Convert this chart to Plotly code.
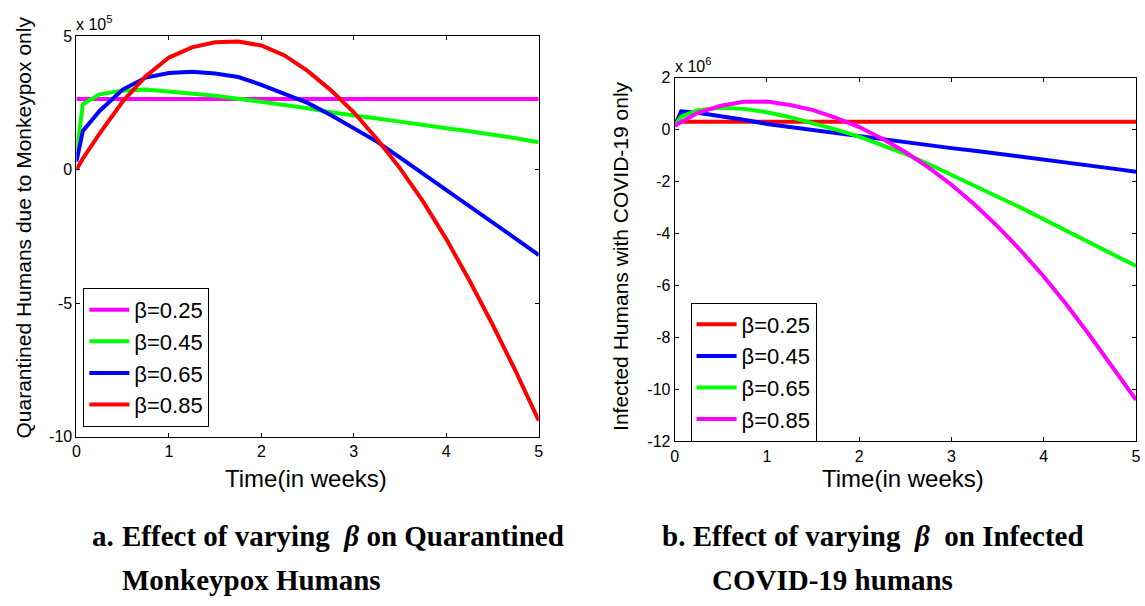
import plotly.graph_objects as go

# ---------------- data ----------------
t = [0, 0.07, 0.25, 0.5, 0.75, 1.0, 1.25, 1.5, 1.75, 2.0, 2.25, 2.5, 2.75,
     3.0, 3.25, 3.5, 3.75, 4.0, 4.25, 4.5, 4.75, 5.0]

# Panel a: Quarantined Humans due to Monkeypox only (units of 1e5)
a_labels = ["β=0.25", "β=0.45", "β=0.65", "β=0.85"]
a_b025 = [2.65] * 22
a_b045 = [0.6, 2.45, 2.82, 2.96, 3.0, 2.93, 2.86, 2.77, 2.66, 2.55, 2.43, 2.3,
          2.15, 2.02, 1.92, 1.8, 1.66, 1.55, 1.44, 1.32, 1.18, 1.03]
a_b065 = [0.3, 1.45, 2.2, 3.0, 3.45, 3.62, 3.67, 3.6, 3.47, 3.18, 2.84, 2.5,
          2.05, 1.55, 1.05, 0.45, -0.15, -0.75, -1.35, -1.97, -2.58, -3.2]
a_b085 = [0.0, 0.42, 1.35, 2.55, 3.5, 4.2, 4.58, 4.77, 4.8, 4.65, 4.28, 3.7,
          2.98, 2.15, 1.15, 0.05, -1.2, -2.6, -4.15, -5.8, -7.55, -9.4]

# Panel b: Infected Humans with COVID-19 only (units of 1e6)
b_labels = ["β=0.25", "β=0.45", "β=0.65", "β=0.85"]
b_b025 = [0.3] * 22
b_b045 = [0.15, 0.7, 0.65, 0.52, 0.38, 0.22, 0.1, -0.02, -0.14, -0.25, -0.37,
          -0.5, -0.61, -0.71, -0.81, -0.92, -1.04, -1.16, -1.27, -1.38, -1.5, -1.62]
b_b065 = [0.15, 0.5, 0.75, 0.84, 0.8, 0.67, 0.48, 0.25, 0.0, -0.27, -0.6, -0.93,
          -1.32, -1.73, -2.14, -2.56, -3.0, -3.45, -3.9, -4.35, -4.8, -5.25]
b_b085 = [0.15, 0.3, 0.65, 0.92, 1.07, 1.08, 0.95, 0.75, 0.45, 0.1, -0.35, -0.86,
          -1.45, -2.12, -2.88, -3.72, -4.65, -5.65, -6.75, -7.93, -9.15, -10.4]

x_ticks = [0, 1, 2, 3, 4, 5]
x_ticktext = ["0", "1", "2", "3", "4", "5"]
a_yticks = [-10, -5, 0, 5]
a_yticktext = ["-10", "-5", "0", "5"]
b_yticks = [-12, -10, -8, -6, -4, -2, 0, 2]
b_yticktext = ["-12", "-10", "-8", "-6", "-4", "-2", "0", "2"]

a_colors = ["#ff00ff", "#00ff00", "#0000ff", "#ff0000"]
b_colors = ["#ff0000", "#0000ff", "#00ff00", "#ff00ff"]

W, H = 1145, 606
def px(x):
    return x / W
def py(y):
    return 1 - y / H

fig = go.Figure()

for name, ys, c in zip(a_labels, [a_b025, a_b045, a_b065, a_b085], a_colors):
    fig.add_trace(go.Scatter(x=t, y=ys, mode="lines", name=name,
                             line=dict(color=c, width=4),
                             xaxis="x", yaxis="y", legend="legend"))
for name, ys, c in zip(b_labels, [b_b025, b_b045, b_b065, b_b085], b_colors):
    fig.add_trace(go.Scatter(x=t, y=ys, mode="lines", name=name,
                             line=dict(color=c, width=4),
                             xaxis="x2", yaxis="y2", legend="legend2"))

FONT = "Arial, Liberation Sans, sans-serif"
SERIF = "Times New Roman, Liberation Serif, serif"

axis_common = dict(showline=True, linecolor="black", linewidth=1, mirror="ticks",
                   ticks="inside", ticklen=4, tickcolor="black", showgrid=False,
                   zeroline=False, tickfont=dict(family=FONT, size=16, color="black"))

fig.update_layout(
    width=W, height=H, autosize=False,
    margin=dict(l=0, r=0, t=0, b=0),
    paper_bgcolor="white", plot_bgcolor="white",
    showlegend=True,
    xaxis=dict(domain=[px(73), px(539)], range=[0, 5], tickmode="array",
               tickvals=x_ticks, ticktext=x_ticktext, anchor="y", **axis_common),
    yaxis=dict(domain=[py(441), py(29)], range=[-10, 5], tickmode="array",
               tickvals=a_yticks, ticktext=a_yticktext, anchor="x", **axis_common),
    xaxis2=dict(domain=[px(676), px(1141)], range=[0, 5], tickmode="array",
                tickvals=x_ticks, ticktext=x_ticktext, anchor="y2", **axis_common),
    yaxis2=dict(domain=[py(446), py(71.7)], range=[-12, 2], tickmode="array",
                tickvals=b_yticks, ticktext=b_yticktext, anchor="x2", **axis_common),
    legend=dict(x=px(80), y=py(288), xanchor="left", yanchor="top",
                bgcolor="white", bordercolor="black", borderwidth=1,
                font=dict(family=FONT, size=22, color="black"),
                itemwidth=40, tracegroupgap=0),
    legend2=dict(x=px(692), y=py(303), xanchor="left", yanchor="top",
                 bgcolor="white", bordercolor="black", borderwidth=1,
                 font=dict(family=FONT, size=22, color="black"),
                 itemwidth=40, tracegroupgap=0),
)

ann = []
def add(text, x, y, xa="center", ya="middle", size=16, family=FONT, angle=0):
    ann.append(dict(text=text, x=px(x), y=py(y), xref="paper", yref="paper",
                    xanchor=xa, yanchor=ya, showarrow=False, textangle=angle,
                    font=dict(family=family, size=size, color="black")))

add("x 10<sup>5</sup>", 71, 28, xa="left", ya="bottom", size=16)
add("x 10<sup>6</sup>", 674, 71, xa="left", ya="bottom", size=16)
add("Quarantined Humans due to Monkeypox only", 20, 226, size=21, angle=-90)
add("Infected Humans with COVID-19 only", 622, 256, size=21, angle=-90)
add("Time(in weeks)", 304, 484, size=24)
add("Time(in weeks)", 906, 484, size=24)

add("<b>a.</b>", 87, 543, xa="left", size=29, family=SERIF)
add("<b>Effect of varying&nbsp; <i>β</i> on Quarantined</b>", 117, 543,
    xa="left", size=29, family=SERIF)
add("<b>Monkeypox Humans</b>", 117, 588, xa="left", size=29, family=SERIF)
add("<b>b. Effect of varying&nbsp; <i>β</i>&nbsp; on Infected</b>",
    661, 543, xa="left", size=29, family=SERIF)
add("<b>COVID-19 humans</b>", 712, 588, xa="left", size=29, family=SERIF)

fig.update_layout(annotations=ann)

fig.write_html("out.html")
